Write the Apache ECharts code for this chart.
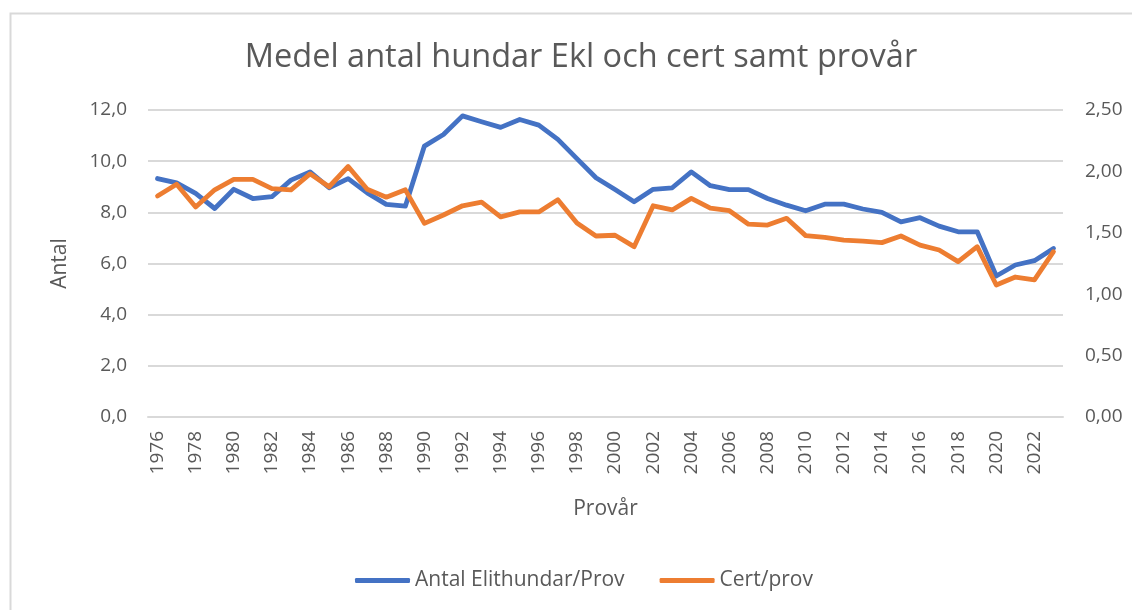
<!DOCTYPE html>
<html>
<head>
<meta charset="utf-8">
<script src="https://cdn.jsdelivr.net/npm/echarts@6/dist/echarts.min.js"></script>
<style>
html,body{margin:0;padding:0;background:#fff;}
#c{width:1132px;height:610px;}
</style>
</head>
<body>
<div id="c"></div>
<script>
const years = ['1976','1977','1978','1979','1980','1981','1982','1983','1984','1985','1986','1987','1988','1989','1990','1991','1992','1993','1994','1995','1996','1997','1998','1999','2000','2001','2002','2003','2004','2005','2006','2007','2008','2009','2010','2011','2012','2013','2014','2015','2016','2017','2018','2019','2020','2021','2022','2023'];
const elitPerProv = [9.32,9.15,8.74,8.15,8.90,8.54,8.61,9.26,9.58,8.96,9.32,8.76,8.31,8.24,10.59,11.04,11.77,11.54,11.32,11.63,11.41,10.85,10.10,9.35,8.89,8.41,8.90,8.96,9.58,9.04,8.89,8.89,8.54,8.28,8.06,8.32,8.32,8.13,8.00,7.63,7.79,7.46,7.24,7.24,5.51,5.94,6.11,6.59];
const certPerProv = [1.80,1.895,1.71,1.85,1.935,1.935,1.86,1.85,1.98,1.875,2.04,1.854,1.79,1.85,1.577,1.645,1.72,1.75,1.63,1.67,1.67,1.77,1.58,1.474,1.48,1.387,1.72,1.686,1.78,1.70,1.68,1.57,1.563,1.618,1.477,1.463,1.44,1.433,1.42,1.474,1.40,1.36,1.265,1.387,1.075,1.14,1.116,1.346];
const seriesNames = ['Antal Elithundar/Prov','Cert/prov'];
const titleText = 'Medel antal hundar Ekl och cert samt provår';

const FONT = '"Open Sans", "Noto Sans", sans-serif';
const GREY = '#595959';
const chart = echarts.init(document.getElementById('c'));
chart.setOption({
  animation: false,
  backgroundColor: '#fff',
  graphic: [{
    type: 'rect', left: 8, top: 11, silent: true,
    shape: {width: 1140, height: 620},
    style: {fill: 'none', stroke: '#d9d9d9', lineWidth: 2}
  }],
  title: {
    text: titleText, left: 576, top: 36, textAlign: 'center',
    textStyle: {fontFamily: FONT, fontSize: 32.5, fontWeight: 'normal', color: GREY}
  },
  legend: {
    left: 350, top: 565,
    itemWidth: 55, itemHeight: 5, itemGap: 35,
    icon: 'roundRect',
    textStyle: {fontFamily: FONT, fontSize: 21, color: GREY},
    data: seriesNames
  },
  grid: {left: 148, right: 69, top: 110, bottom: 193, containLabel: false},
  xAxis: {
    type: 'category', data: years, boundaryGap: true,
    name: 'Provår', nameLocation: 'middle', nameGap: 82,
    nameTextStyle: {fontFamily: FONT, fontSize: 21, color: GREY},
    axisLine: {show: true, lineStyle: {color: '#d9d9d9', width: 2}},
    axisTick: {show: false},
    axisLabel: {rotate: 90, interval: 1, margin: 14, fontFamily: FONT, fontSize: 19, color: GREY}
  },
  yAxis: [{
    type: 'value', min: 0, max: 12, interval: 2,
    name: 'Antal', nameLocation: 'middle', nameGap: 77, nameRotate: 90,
    nameTextStyle: {fontFamily: FONT, fontSize: 21, color: GREY},
    axisLine: {show: false}, axisTick: {show: false},
    splitLine: {lineStyle: {color: '#d9d9d9', width: 2}},
    axisLabel: {margin: 21, fontFamily: FONT, fontSize: 19, color: GREY,
      formatter: v => v.toFixed(1).replace('.', ',')}
  }, {
    type: 'value', min: 0, max: 2.5, interval: 0.5, position: 'right',
    axisLine: {show: false}, axisTick: {show: false},
    splitLine: {show: false},
    axisLabel: {margin: 22, fontFamily: FONT, fontSize: 19, color: GREY,
      formatter: v => v.toFixed(2).replace('.', ',')}
  }],
  series: [{
    name: seriesNames[0], type: 'line', yAxisIndex: 0, data: elitPerProv,
    symbol: 'none', color: '#4472C4',
    lineStyle: {width: 4.8, color: '#4472C4', cap: 'round', join: 'round'}
  }, {
    name: seriesNames[1], type: 'line', yAxisIndex: 1, data: certPerProv,
    symbol: 'none', color: '#ED7D31',
    lineStyle: {width: 4.8, color: '#ED7D31', cap: 'round', join: 'round'}
  }]
});
</script>
</body>
</html>
